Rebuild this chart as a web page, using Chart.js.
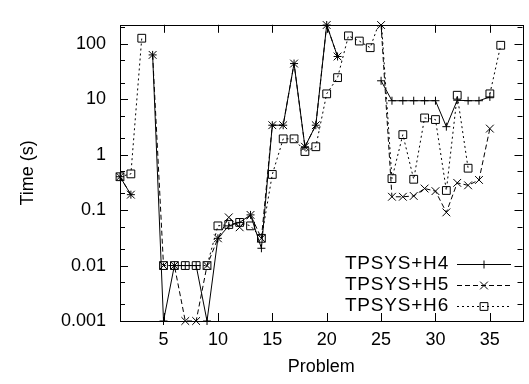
<!DOCTYPE html>
<html>
<head>
<meta charset="utf-8">
<script src="https://cdn.jsdelivr.net/npm/chart.js@4.4.1/dist/chart.umd.min.js"></script>
<style>
  html, body { margin: 0; padding: 0; background: #fff; }
</style>
</head>
<body>
<canvas id="grafico" width="529" height="384"></canvas>
<script>
const problems = [1,2,3,4,5,6,7,8,9,10,11,12,13,14,15,16,17,18,19,20,21,22,23,24,25,26,27,28,29,30,31,32,33,34,35,36];

const h4 = [0.4, 0.19, null, 63, 0.001, 0.01, 0.01, 0.01, 0.001, 0.031,
            0.052, 0.06, 0.082, 0.0205, 3.4, 3.4, 44, 1.39, 3.4, 218,
            59, null, null, null, 21.5, 9.4, 9.4, 9.4, 9.4, 9.4,
            3.2, 9.6, 9.4, 9.4, 11, null];

const h5 = [0.4, 0.19, null, 63, 0.01, 0.01, 0.001, 0.001, 0.01, 0.031,
            0.074, 0.049, 0.082, 0.031, 3.4, 3.4, 44, 1.39, 3.4, 218,
            59, null, null, null, 218, 0.174, 0.174, 0.18, 0.245, 0.22,
            0.091, 0.31, 0.28, 0.35, 2.95, null];

// problem 25 for H6 is above the top of the axis, only its line shows
const h6 = [0.4, 0.45, 126, null, 0.01, 0.01, 0.01, 0.01, 0.01, 0.052,
            0.055, 0.06, 0.052, 0.031, 0.44, 1.93, 1.93, 1.14, 1.39, 12.5,
            24.5, 139, 112, 85, 300, 0.37, 2.3, 0.36, 4.6, 4.3,
            0.226, 11.8, 0.57, null, 12.5, 94];

const xTicks = [5, 10, 15, 20, 25, 30, 35];
const yTicks = [0.001, 0.01, 0.1, 1, 10, 100];
const yMinorTicks = [0.002, 0.005, 0.02, 0.05, 0.2, 0.5, 2, 5, 20, 50, 200];

const fonte = 'Liberation Sans, Arial, Helvetica, sans-serif';

function pontos(valores) {
    return problems.map((p, i) => ({x: p, y: valores[i]}));
}

// frame and inside ticks, like gnuplot
const moldura = {
    id: 'moldura',
    beforeDatasetsDraw(chart) {
        const {ctx, chartArea: a, scales} = chart;
        ctx.save();
        ctx.strokeStyle = '#000';
        ctx.lineWidth = 1;
        ctx.beginPath();
        xTicks.forEach(v => {
            const x = Math.round(scales.x.getPixelForValue(v)) + 0.5;
            ctx.moveTo(x, a.bottom); ctx.lineTo(x, a.bottom - 8);
            ctx.moveTo(x, a.top); ctx.lineTo(x, a.top + 8);
        });
        yTicks.forEach(v => {
            const y = Math.round(scales.y.getPixelForValue(v)) + 0.5;
            ctx.moveTo(a.left, y); ctx.lineTo(a.left + 8, y);
            ctx.moveTo(a.right, y); ctx.lineTo(a.right - 8, y);
        });
        yMinorTicks.forEach(v => {
            const y = Math.round(scales.y.getPixelForValue(v)) + 0.5;
            ctx.moveTo(a.left, y); ctx.lineTo(a.left + 5, y);
            ctx.moveTo(a.right, y); ctx.lineTo(a.right - 5, y);
        });
        ctx.stroke();
        ctx.strokeRect(Math.round(a.left) + 0.5, Math.round(a.top) + 0.5,
                       Math.round(a.right - a.left), Math.round(a.bottom - a.top));
        ctx.restore();
    }
};

const legenda = {
    id: 'legenda',
    afterDraw(chart) {
        const ctx = chart.ctx;
        ctx.save();
        ctx.font = '19px ' + fonte;
        ctx.textAlign = 'right';
        ctx.textBaseline = 'middle';
        chart.data.datasets.forEach((ds, i) => {
            const y = 264 + i * 21;
            ctx.fillStyle = '#000';
            ctx.letterSpacing = '0.8px';
            ctx.fillText(ds.label, 449, y);
            ctx.letterSpacing = '0px';
            ctx.strokeStyle = '#000';
            ctx.lineWidth = 1;
            ctx.setLineDash(ds.borderDash || []);
            ctx.beginPath();
            ctx.moveTo(457, y + 0.5);
            ctx.lineTo(511, y + 0.5);
            ctx.stroke();
            ctx.setLineDash([]);
            ctx.fillStyle = 'rgba(0,0,0,0)';
            Chart.helpers.drawPoint(ctx, {
                pointStyle: ds.pointStyle,
                radius: ds.pointRadius,
                borderWidth: 1
            }, 484, y + 0.5);
        });
        ctx.restore();
    }
};

const data = {
    datasets: [{
        label: 'TPSYS+H4',
        data: pontos(h4),
        borderColor: '#000',
        borderWidth: 1,
        pointStyle: 'cross',
        pointRadius: 4,
        pointBorderColor: '#000',
        pointBackgroundColor: 'rgba(0,0,0,0)',
        clip: false,
    }, {
        label: 'TPSYS+H5',
        data: pontos(h5),
        borderColor: '#000',
        borderWidth: 1,
        borderDash: [5, 3],
        pointStyle: 'crossRot',
        pointRadius: 5.5,
        pointBorderColor: '#000',
        pointBackgroundColor: 'rgba(0,0,0,0)',
        clip: false,
    }, {
        label: 'TPSYS+H6',
        data: pontos(h6),
        borderColor: '#000',
        borderWidth: 1,
        borderDash: [2, 3],
        pointStyle: 'rect',
        pointRadius: 5.5,
        pointBorderColor: '#000',
        pointBackgroundColor: 'rgba(0,0,0,0)',
        clip: {left: 8, top: 0, right: 8, bottom: 8},
    }]
};

const config = {
    type: 'line',
    data,
    plugins: [moldura, legenda],
    options: {
        responsive: false,
        animation: false,
        spanGaps: false,
        layout: {
            padding: {left: 0, right: 3, top: 10, bottom: 0}
        },
        scales: {
            x: {
                type: 'linear',
                min: 1,
                max: 38,
                grid: {display: false, drawTicks: false},
                border: {display: false},
                afterBuildTicks(scale) {
                    scale.ticks = xTicks.map(v => ({value: v}));
                },
                afterFit(scale) { scale.height = 63; },
                ticks: {
                    color: '#000',
                    padding: 8,
                    maxRotation: 0,
                    font: {family: fonte, size: 18}
                },
                title: {
                    display: true,
                    text: 'Problem',
                    color: '#000',
                    padding: {top: 0, bottom: 6},
                    font: {family: fonte, size: 18}
                }
            },
            y: {
                type: 'logarithmic',
                min: 0.001,
                max: 220,
                grid: {display: false, drawTicks: false},
                border: {display: false},
                afterBuildTicks(scale) {
                    scale.ticks = yTicks.map(v => ({value: v}));
                },
                afterFit(scale) { scale.width = 120; },
                ticks: {
                    color: '#000',
                    padding: 14,
                    font: {family: fonte, size: 18},
                    callback: (v) => String(v)
                },
                title: {
                    display: true,
                    text: 'Time (s)',
                    color: '#000',
                    padding: {top: 17, bottom: 0},
                    font: {family: fonte, size: 18}
                }
            }
        },
        plugins: {
            legend: {display: false},
            title: {display: false},
            tooltip: {enabled: false}
        }
    }
};

const meuGrafico = new Chart(document.getElementById('grafico'), config);
</script>
</body>
</html>
